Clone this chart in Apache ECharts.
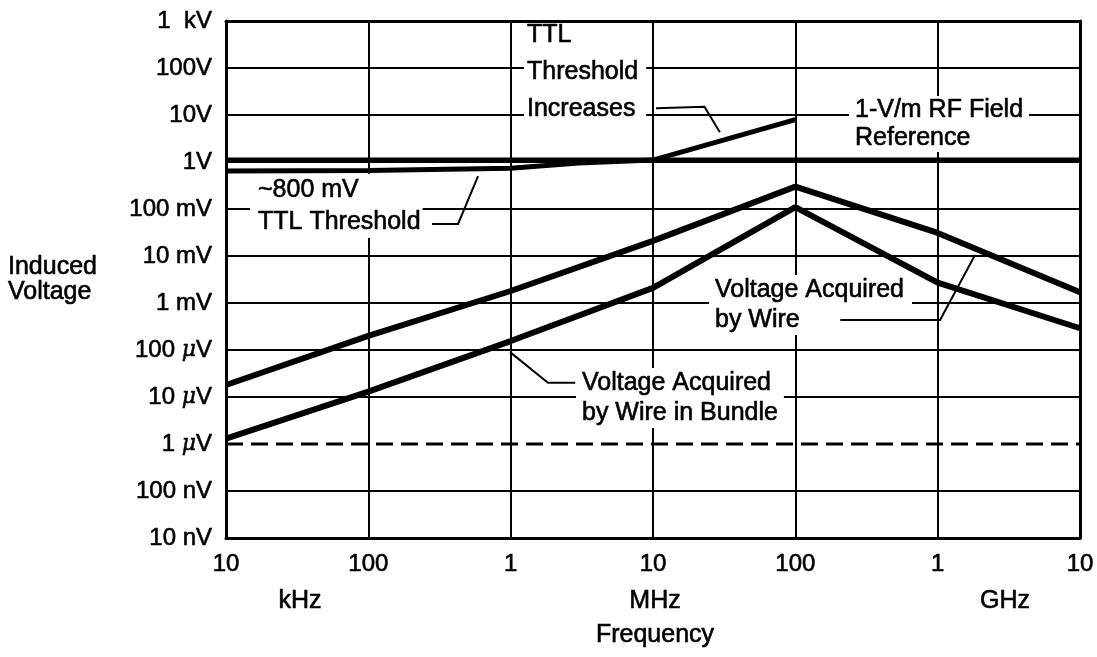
<!DOCTYPE html>
<html>
<head>
<meta charset="utf-8">
<script src="https://cdn.jsdelivr.net/npm/echarts@6/dist/echarts.min.js"></script>
<style>
html,body{margin:0;padding:0;background:#fff;}
#chart{width:1097px;height:657px;}
</style>
</head>
<body>
<div id="chart"></div>
<script>
// ---- data ----
const freqHz = [1e4, 1e5, 1e6, 1e7, 1e8, 1e9, 1e10];
const freqTickLabels = ['10', '100', '1', '10', '100', '1', '10'];
const voltTickLabels = ['10 nV', '100 nV', '1 {mu|μ}V', '10 {mu|μ}V', '100 {mu|μ}V', '1 mV', '10 mV', '100 mV', '1V', '10V', '100V', '1  kV'];
const wireV = [1.8e-5, 2.0e-4, 1.8e-3, 2.1e-2, 0.30, 3.1e-2, 1.7e-3];
const bundleV = [1.3e-6, 1.3e-5, 1.55e-4, 2.1e-3, 0.11, 2.7e-3, 2.9e-4];
const rfRefV = [1.1, 1.1, 1.1, 1.1, 1.1, 1.1, 1.1];
const noiseFloorV = [1e-6, 1e-6, 1e-6, 1e-6, 1e-6, 1e-6, 1e-6];
const ttlFreqHz = [1e4, 1e5, 1e6, 3e6, 1e7, 1e8];
const ttlV = [0.64, 0.66, 0.74, 0.95, 1.1, 8];
// annotation leader paths (frequency, voltage)
const leaderTTLInc = [[1.05e7, 14], [2.3e7, 15], [2.95e7, 4.3]];
const leaderTTL800 = [[2.8e5, 0.048], [4.27e5, 0.048], [5.9e5, 0.5]];
const leaderWire = [[2.07e8, 4.35e-4], [1.04e9, 4.35e-4], [1.83e9, 1.05e-2]];
const leaderBundle = [[2.84e6, 2.0e-5], [1.83e6, 2.0e-5], [9.9e5, 9e-5]];

const FONT = '"Liberation Sans", Arial, sans-serif';
const chart = echarts.init(document.getElementById('chart'), null, {renderer: 'canvas'});

function zip(xs, ys) { return xs.map((x, i) => [x, ys[i]]); }
function thick(name, data, w) {
  return {name: name, type: 'line', data: data, showSymbol: false, symbol: 'none',
    lineStyle: {color: '#000', width: w}, z: 5, animation: false};
}
function leader(path) {
  return {type: 'lines', coordinateSystem: 'cartesian2d', polyline: true,
    data: [{coords: path}], symbol: ['none', 'arrow'], symbolSize: 11,
    lineStyle: {color: '#000', width: 2, opacity: 1}, z: 6, animation: false};
}
function block(x, y, text, size, lh, pad, bg) {
  const st = {text: text, font: size + 'px ' + FONT, fill: '#000', stroke: '#000', lineWidth: 0.6,
    lineHeight: lh, padding: pad || [0, 0, 0, 0]};
  if (bg) st.backgroundColor = '#fff';
  return {type: 'text', x: x, y: y, z: 3, style: st};
}
function center(x, y, text) {
  return {type: 'text', x: x, y: y, z: 3, style: {text: text, font: '25px ' + FONT, fill: '#000',
    stroke: '#000', lineWidth: 0.6, align: 'center', verticalAlign: 'middle'}};
}
const frameAxisLine = {show: true, onZero: false, lineStyle: {color: '#000', width: 3}};

chart.setOption({
  animation: false,
  backgroundColor: '#fff',
  grid: {left: 226, right: 17, top: 21, bottom: 119, containLabel: false},
  xAxis: [{
    type: 'log', logBase: 10, min: 1e4, max: 1e10, interval: 1,
    axisLine: frameAxisLine,
    axisTick: {show: false},
    splitLine: {show: true, lineStyle: {color: '#000', width: 2}},
    axisLabel: {color: '#000', fontFamily: FONT, fontSize: 24, margin: 14,
      textBorderColor: '#000', textBorderWidth: 0.6,
      formatter: v => freqTickLabels[Math.round(Math.log10(v)) - 4]}
  }, {
    type: 'log', logBase: 10, min: 1e4, max: 1e10, interval: 1, position: 'top', z: 8,
    axisLine: frameAxisLine, axisTick: {show: false}, axisLabel: {show: false}, splitLine: {show: false}
  }],
  yAxis: [{
    type: 'log', logBase: 10, min: 1e-8, max: 1e3, interval: 1,
    axisLine: frameAxisLine,
    axisTick: {show: false},
    splitLine: {show: true, lineStyle: {width: 2,
      color: ['#000', '#000', 'rgba(0,0,0,0)', '#000', '#000', '#000', '#000', '#000', '#000', '#000', '#000', '#000']}},
    axisLabel: {color: '#000', fontFamily: FONT, fontSize: 24, margin: 14,
      textBorderColor: '#000', textBorderWidth: 0.6,
      formatter: v => voltTickLabels[Math.round(Math.log10(v)) + 8],
      rich: {mu: {fontStyle: 'italic', fontFamily: '"DejaVu Serif", serif', fontSize: 22, color: '#000',
        textBorderColor: '#000', textBorderWidth: 0.5}}}
  }, {
    type: 'log', logBase: 10, min: 1e-8, max: 1e3, interval: 1, position: 'right', z: 8,
    axisLine: frameAxisLine, axisTick: {show: false}, axisLabel: {show: false}, splitLine: {show: false}
  }],
  series: [
    thick('1-V/m RF Field Reference', zip(freqHz, rfRefV), 5),
    thick('TTL Threshold', zip(ttlFreqHz, ttlV), 5),
    thick('Voltage Acquired by Wire', zip(freqHz, wireV), 6),
    thick('Voltage Acquired by Wire in Bundle', zip(freqHz, bundleV), 6),
    {name: '1 uV', type: 'line', data: zip(freqHz, noiseFloorV), showSymbol: false, symbol: 'none',
      lineStyle: {color: '#000', width: 3, type: [17, 8]}, z: 4},
    leader(leaderTTLInc), leader(leaderTTL800), leader(leaderWire), leader(leaderBundle)
  ],
  graphic: [
    block(527, 23, 'TTL', 25, 25, null, false),
    block(524, 54, 'Threshold\nIncreases', 25, 37, [0, 8, 0, 3], true),
    block(849, 96, '1-V/m RF Field\nReference', 25, 28, [0, 6, 0, 6], true),
    block(250, 174, '~800 mV\nTTL Threshold', 25, 32, [0, 2, 0, 8], true),
    block(709, 275, 'Voltage Acquired\nby Wire', 25, 30, [0, 8, 0, 6], true),
    block(576, 368, 'Voltage Acquired\nby Wire in Bundle', 25, 30, [0, 6, 0, 6], true),
    block(8, 255, 'Induced\nVoltage', 25, 25, null, false),
    center(300, 601, 'kHz'),
    center(655, 601, 'MHz'),
    center(1005, 601, 'GHz'),
    center(655, 635, 'Frequency')
  ]
});
</script>
</body>
</html>
